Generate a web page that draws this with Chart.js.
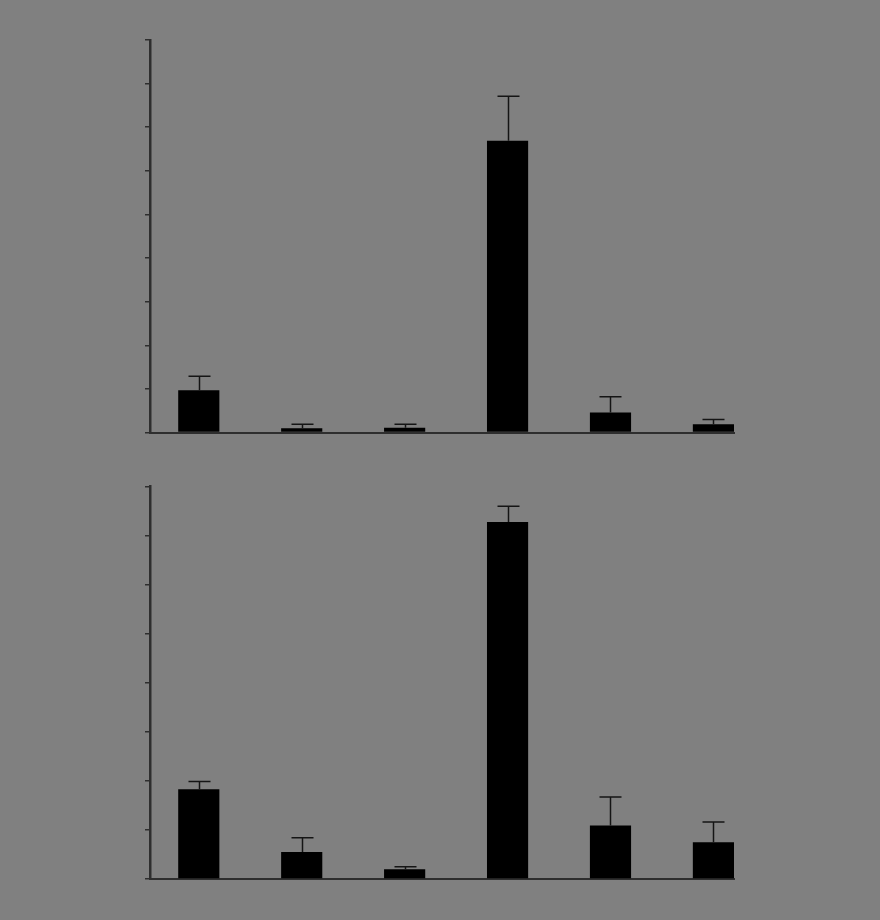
<!DOCTYPE html>
<html>
<head>
<meta charset="utf-8">
<script src="https://cdn.jsdelivr.net/npm/chart.js@4/dist/chart.umd.min.js"></script>
<style>
	html, body { margin: 0; padding: 0; background: #808080; }
	#wrap { position: relative; width: 880px; height: 920px; overflow: hidden; }
	.holder { position: absolute; left: 0; width: 880px; height: 460px; }
	#top-holder { top: 0; }
	#bottom-holder { top: 460px; }
</style>
</head>
<body>
<div id="wrap">
	<div class="holder" id="top-holder"><canvas id="c-top"></canvas></div>
	<div class="holder" id="bottom-holder"><canvas id="c-bottom"></canvas></div>
</div>
<script>

// six groups, no labels printed in the figure
let groups = ["1", "2", "3", "4", "5", "6"];

// upper panel (axis 0 - 9)
let topMeans = [0.97, 0.10, 0.11, 6.69, 0.46, 0.19];
let topErrors = [0.32, 0.09, 0.08, 1.02, 0.36, 0.11];
let topTicks = [0, 1, 2, 3, 4, 5, 6, 7, 8, 9];

// lower panel (axis 0 - 8)
let bottomMeans = [1.83, 0.55, 0.20, 7.28, 1.09, 0.75];
let bottomErrors = [0.16, 0.29, 0.05, 0.32, 0.58, 0.41];
let bottomTicks = [0, 1, 2, 3, 4, 5, 6, 7, 8];

let axisColor = "#2e2e2e";

// Chart.js has no error bars, so draw the upper whiskers here.
let errorBarPlugin = {

	id: "errorBars",

	afterDatasetsDraw: function(chart) {

		let ctx = chart.ctx;
		let yScale = chart.scales.y;
		let errors = chart.options.plugins.errorBars.errors;
		let meta = chart.getDatasetMeta(0);

		ctx.save();
		ctx.strokeStyle = "#151515";
		ctx.lineWidth = 1.5;

		meta.data.forEach(function(bar, i) {

			let value = chart.data.datasets[0].data[i].y;
			let yTop = yScale.getPixelForValue(value + errors[i]);
			let yBar = yScale.getPixelForValue(value);
			let x = Math.round(bar.x) + 0.5;

			ctx.beginPath();
			ctx.moveTo(x, yBar);
			ctx.lineTo(x, yTop);
			ctx.moveTo(x - 11, yTop);
			ctx.lineTo(x + 11, yTop);
			ctx.stroke();

		});

		ctx.restore();

	}

};

function makePanel(canvasId, means, errors, ticks, padTop, padBottom) {

	let points = [];

	for (let i = 0; i < groups.length; i++) {
		points.push({ x: i, y: means[i] });
	}

	return new Chart(document.getElementById(canvasId), {
		type: "bar",
		data: {
			labels: groups,
			datasets: [{
				data: points,
				backgroundColor: "#000000",
				borderWidth: 0,
				barPercentage: 0.4,
				categoryPercentage: 1.0
			}]
		},
		options: {
			responsive: true,
			maintainAspectRatio: false,
			animation: false,
			layout: {
				padding: { left: 145, right: 146, top: padTop, bottom: padBottom }
			},
			plugins: {
				legend: { display: false },
				tooltip: { enabled: false },
				errorBars: { errors: errors }
			},
			scales: {
				x: {
					type: "linear",
					offset: false,
					min: -0.474,
					max: groups.length - 1 + 0.2,
					ticks: { display: false },
					grid: { display: false, drawTicks: false, offset: false },
					border: { display: true, color: axisColor, width: 2 }
				},
				y: {
					min: ticks[0],
					max: ticks[ticks.length - 1],
					afterBuildTicks: function(scale) {
						scale.ticks = ticks.map(function(t) { return { value: t }; });
					},
					ticks: { display: false },
					grid: {
						drawOnChartArea: false,
						drawTicks: true,
						tickLength: 5,
						color: axisColor,
						lineWidth: 1.5
					},
					border: { display: true, color: axisColor, width: 2.5 }
				}
			}
		},
		plugins: [errorBarPlugin]
	});

}

makePanel("c-top", topMeans, topErrors, topTicks, 40, 27.5);
makePanel("c-bottom", bottomMeans, bottomErrors, bottomTicks, 26.7, 41);

</script>
</body>
</html>
